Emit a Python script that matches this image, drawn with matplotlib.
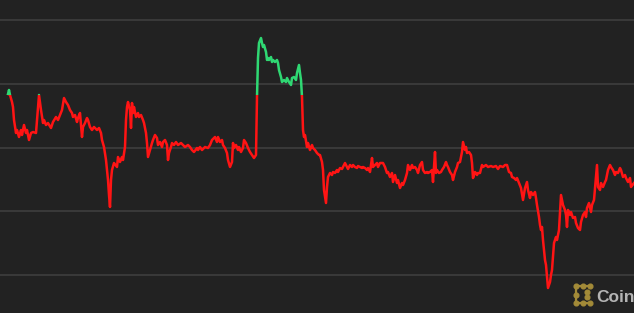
import matplotlib
matplotlib.use("Agg")
import matplotlib.pyplot as plt
from matplotlib.patches import Rectangle

# time index (minutes into the session) and price
t = [8, 9, 10, 12, 13, 14, 16, 17, 19, 21, 22, 24, 26, 27, 29, 31, 33, 36, 37, 39,
     41, 43, 44, 46, 48, 51, 53, 56, 58, 60, 62, 64, 66, 68, 70, 72, 73, 75, 77, 78,
     80, 82, 83, 85, 87, 88, 90, 92, 94, 97, 99, 101, 102, 104, 106, 107, 108,
     109, 110, 111, 112, 114, 117, 118, 120, 122, 123, 125, 126, 127, 128, 130, 131, 132, 133, 134, 136,
     138, 139, 141, 143, 144, 146, 147, 148, 150, 152, 153, 155, 157, 158, 160, 162, 163, 165, 167, 168,
     169, 171, 172, 174, 176, 178, 181, 183, 185, 188, 190, 192, 194, 197, 198, 200, 202, 205, 208, 210,
     212, 214,
     215, 217, 218, 220, 222, 223, 225, 227, 228, 230, 232, 233, 234, 236, 238, 239, 241, 243, 244, 246,
     248, 250, 252, 254, 256, 257, 258, 259, 261, 262, 263, 264, 266, 267, 268, 269, 271, 272, 273, 275,
     277, 278, 279, 281, 282, 284, 286, 287, 289, 291, 292, 294, 296, 297, 299, 300, 301, 302, 303, 304,
     305, 307, 308, 310, 312, 313, 315, 317, 319,
     320, 322, 323, 324, 326, 327, 328, 330, 332, 333, 335, 337, 338, 340, 342, 343, 345, 347, 348, 350,
     352, 353, 355, 357, 358, 360, 362, 363, 365, 367, 368, 370, 372, 373, 375, 377, 378, 380, 382, 383,
     385, 387, 388, 390, 392, 393, 395, 397, 398, 400, 402, 403, 405, 407, 408, 410, 412, 413, 415, 417,
     418,
     420, 422, 423, 425, 427, 428, 430, 432, 433, 435, 436, 437, 439, 441, 442, 444, 446, 447, 448, 450,
     452, 453, 455, 457, 458, 460, 462, 463, 465, 466, 467, 469, 471, 472, 473, 475, 477, 478, 480, 482,
     483, 486, 488, 491, 493, 496, 498, 500, 503, 505, 507, 509, 511, 512, 514, 516, 517, 519, 521,
     523, 525, 527, 528, 530, 531, 533, 535, 536, 537, 539, 540, 541, 542, 543, 545, 546, 547, 548, 550,
     551, 552, 554, 556, 557, 559, 561, 562, 563, 565, 566, 567, 568, 570, 571, 573, 575, 576, 578, 580,
     581, 583, 585, 586, 587, 589, 591, 592, 594, 596, 597, 598, 600, 601, 603, 605, 606, 608, 610, 611,
     613, 615, 616, 618, 620, 621, 623, 625, 626, 628, 630, 631, 634]

price = [19060, 19100, 19050, 18980, 18930, 18800, 18670, 18700, 18630, 18700,
         18650, 18750, 18670, 18700, 18600, 18670, 18680, 18670, 18800, 19050,
         18900, 18770, 18800, 18750, 18770, 18720, 18780, 18830, 18800, 18850,
         18900, 19020, 18980, 18950, 18900, 18870, 18830, 18850, 18780, 18820,
         18870, 18630, 18730, 18770, 18820, 18800, 18730, 18700, 18730, 18700,
         18720, 18670, 18600, 18530, 18400, 18300, 18200,
         18050, 17930, 18200, 18300, 18370, 18330, 18430, 18380, 18430, 18400,
         18530, 18800, 18930, 18980, 18900, 18720, 18970, 18870, 18930, 18830,
         18870, 18830, 18850, 18800, 18770, 18670, 18570, 18430, 18500, 18570,
         18600, 18650, 18620, 18550, 18580, 18530, 18580, 18600, 18550, 18400,
         18470, 18530, 18570, 18550, 18580, 18550, 18570, 18550, 18530, 18550,
         18530, 18500, 18480, 18520, 18500, 18530, 18500, 18530, 18520, 18550,
         18600, 18620,
         18630, 18580, 18630, 18580, 18600, 18550, 18520, 18470, 18400, 18330,
         18380, 18570, 18520, 18550, 18500, 18530, 18480, 18520, 18600, 18570,
         18520, 18480, 18450, 18420, 18450, 19030, 19420, 19570, 19620, 19570,
         19530, 19550, 19480, 19400, 19420, 19400, 19430, 19380, 19400, 19380,
         19400, 19370, 19300, 19230, 19180, 19200, 19180, 19220, 19180, 19150,
         19220, 19230, 19200, 19270, 19350, 19270, 19200, 19030, 18700, 18630,
         18650, 18530, 18570, 18500, 18550, 18520, 18500, 18470, 18450,
         18450, 18380, 18300, 18100, 17970, 18130, 18230, 18270, 18250, 18280,
         18270, 18300, 18280, 18320, 18310, 18330, 18370, 18330, 18310, 18350,
         18330, 18350, 18330, 18320, 18340, 18330, 18320, 18330, 18320, 18300,
         18320, 18280, 18420, 18330, 18350, 18370, 18330, 18370, 18370, 18370,
         18330, 18270, 18280, 18230, 18270, 18180, 18250, 18170, 18200, 18120,
         18170, 18150, 18200, 18270, 18350, 18300, 18350, 18320, 18330, 18300,
         18270,
         18350, 18380, 18300, 18270, 18280, 18270, 18280, 18300, 18180, 18480,
         18270, 18300, 18270, 18280, 18300, 18330, 18380, 18350, 18330, 18280,
         18250, 18200, 18280, 18330, 18370, 18380, 18480, 18580, 18500, 18530,
         18470, 18480, 18450, 18370, 18220, 18280, 18250, 18270, 18270, 18350,
         18330, 18350, 18330, 18340, 18330, 18340, 18310, 18340, 18330, 18350,
         18350, 18280, 18270, 18230, 18220, 18200, 18220, 18170, 18120,
         18000, 18120, 18180, 18100, 18020, 18080, 18050, 18080, 18020, 17950,
         17830, 17750, 17700, 17730, 17600, 17400, 17350, 17230, 17120, 17180,
         17250, 17300, 17570, 17630, 17600, 17700, 18050, 18000, 17950, 17900,
         17850, 17730, 17900, 17850, 17880, 17820, 17830, 17770, 17720, 17700,
         17780, 17850, 17880, 17830, 17920, 17970, 17880, 17950, 18000, 18230,
         18350, 18130, 18100, 18170, 18130, 18180, 18200, 18300, 18350, 18330,
         18300, 18250, 18280, 18270, 18320, 18300, 18230, 18250, 18220, 18180,
         18220, 18130, 18170]

open_price = 19050
grid_levels = [17248, 17886, 18524, 19162, 19800]

BG = "#222222"
RED = "#ff1414"
GREEN = "#2fd873"

fig = plt.figure(figsize=(6.34, 3.13), dpi=100, facecolor=BG)
ax = fig.add_axes([0, 0, 1, 1])
ax.set_facecolor(BG)
ax.set_xlim(0, 634)
ax.set_ylim(16870, 20000)

ax.set_yticks(grid_levels)
ax.set_xticks([])
ax.grid(axis="y", color="#3c3c3c", linewidth=1.3)
ax.tick_params(left=False, labelleft=False)
for s in ax.spines.values():
    s.set_visible(False)

# below open -> red, above open -> green
below = Rectangle((0, 16870), 634, open_price - 16870, transform=ax.transData)
above = Rectangle((0, open_price), 634, 20000 - open_price, transform=ax.transData)
l1, = ax.plot(t, price, color=RED, lw=1.8, solid_joinstyle="round", zorder=3)
l1.set_clip_path(below)
l2, = ax.plot(t, price, color=GREEN, lw=1.8, solid_joinstyle="round", zorder=3)
l2.set_clip_path(above)

# watermark logo
gold = "#a28a38"
W, H = 634.0, 313.0
def px(x, y):
    return x / W, 1 - y / H
for (xa, ya), (xb, yb) in [((576, 286), (590, 286)), ((576, 286), (576, 303)), ((576, 303), (590, 303))]:
    ax.plot(*zip(px(xa, ya), px(xb, yb)), color=gold, lw=1.6, transform=ax.transAxes, zorder=4)
for (xd, yd) in [(576, 286), (583, 286), (590, 286), (576, 303), (583, 303), (590, 303),
                 (576, 294.5), (587, 292), (587, 297)]:
    ax.plot(*px(xd, yd), "o", color=gold, ms=3.4, transform=ax.transAxes, zorder=4)
fig.text(596 / W, 1 - 302 / H, "Coin", color="#b4b4b4", fontsize=12.5, fontweight="bold",
         family="Liberation Sans", va="baseline", ha="left")

fig.savefig("out.png", dpi=100, facecolor=BG)
